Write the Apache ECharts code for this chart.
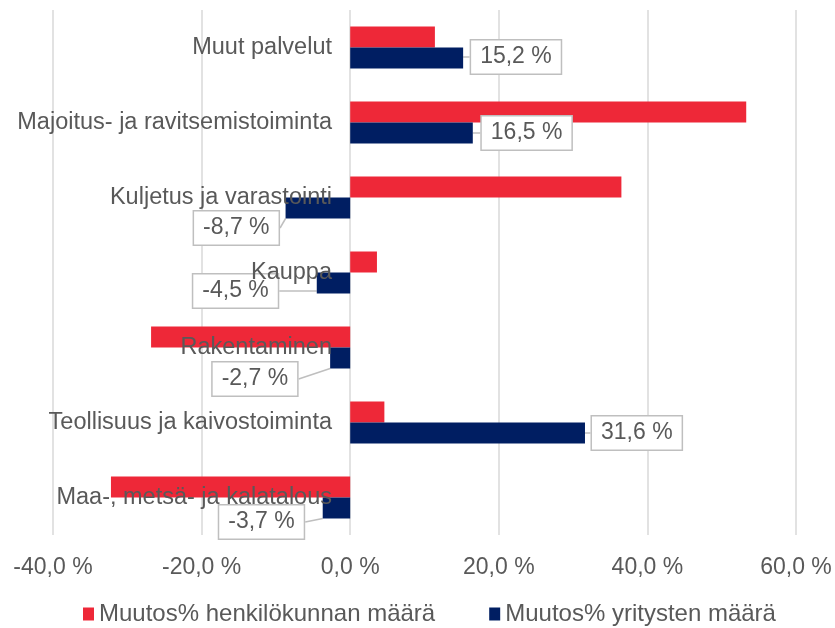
<!DOCTYPE html>
<html>
<head>
<meta charset="utf-8">
<script src="https://cdn.jsdelivr.net/npm/echarts@6/dist/echarts.min.js"></script>
<style>
  html, body { margin: 0; padding: 0; background: #fff; }
  #chart { width: 835px; height: 628px; }
</style>
</head>
<body>
<div id="chart"></div>
<script>
// toimialat alhaalta ylös
const categories = [
  'Maa-, metsä- ja kalatalous',
  'Teollisuus ja kaivostoiminta',
  'Rakentaminen',
  'Kauppa',
  'Kuljetus ja varastointi',
  'Majoitus- ja ravitsemistoiminta',
  'Muut palvelut'
]
const henkilokunta = [-32.2, 4.6, -26.8, 3.6, 36.5, 53.3, 11.4]
const yritykset = [-3.7, 31.6, -2.7, -4.5, -8.7, 16.5, 15.2]
const seriesNames = ['Muutos% henkilökunnan määrä', 'Muutos% yritysten määrä']

// arvolaatikoiden siirrot (dx, dy)
const labelShift = [[-14, 14], [2, 0], [-28, 21], [-34, 8], [-2, 20], [4, 0], [3, -1]]

const fmt = v => v.toFixed(1).replace('.', ',') + ' %'
const textColor = '#595959'
const font = 'Liberation Sans, Arial, sans-serif'

const chart = echarts.init(document.getElementById('chart'))
chart.setOption({
  animation: false,
  grid: { left: 53, right: 39, top: 10, bottom: 93, containLabel: false, outerBoundsMode: 'none' },
  legend: {
    data: seriesNames,
    left: 78,
    top: 597,
    itemWidth: 11,
    itemHeight: 13,
    itemGap: 54,
    icon: 'rect',
    textStyle: { color: textColor, fontSize: 24, fontFamily: font }
  },
  xAxis: {
    type: 'value',
    min: -40,
    max: 60,
    interval: 20,
    axisLine: { show: false },
    axisTick: { show: false },
    splitLine: { lineStyle: { color: '#d9d9d9', width: 1.5 } },
    axisLabel: {
      formatter: fmt,
      color: textColor,
      fontSize: 23,
      fontFamily: font,
      margin: 21
    }
  },
  yAxis: {
    type: 'category',
    data: categories,
    z: 3,
    axisLine: { show: false, onZero: false },
    axisTick: { show: false },
    axisLabel: {
      color: textColor,
      fontSize: 23.5,
      fontFamily: font,
      // nimet nollaviivan vasemmalle puolelle
      margin: -279
    }
  },
  series: [
    {
      name: seriesNames[0],
      type: 'bar',
      data: henkilokunta,
      itemStyle: { color: '#ee2838' },
      barGap: '0%',
      barCategoryGap: '44%'
    },
    {
      name: seriesNames[1],
      type: 'bar',
      data: yritykset.map(v => ({ value: v, label: { position: v < 0 ? 'left' : 'right' } })),
      itemStyle: { color: '#001e62' },
      label: {
        show: true,
        distance: 5,
        formatter: p => fmt(p.value),
        color: textColor,
        fontSize: 23,
        fontFamily: font,
        backgroundColor: '#fff',
        borderColor: '#bfbfbf',
        borderWidth: 1.5,
        padding: [5, 9]
      },
      labelLine: { show: true, lineStyle: { color: '#bfbfbf', width: 1.5 } },
      labelLayout: p => ({ dx: labelShift[p.dataIndex][0], dy: labelShift[p.dataIndex][1] })
    }
  ]
})
</script>
</body>
</html>
